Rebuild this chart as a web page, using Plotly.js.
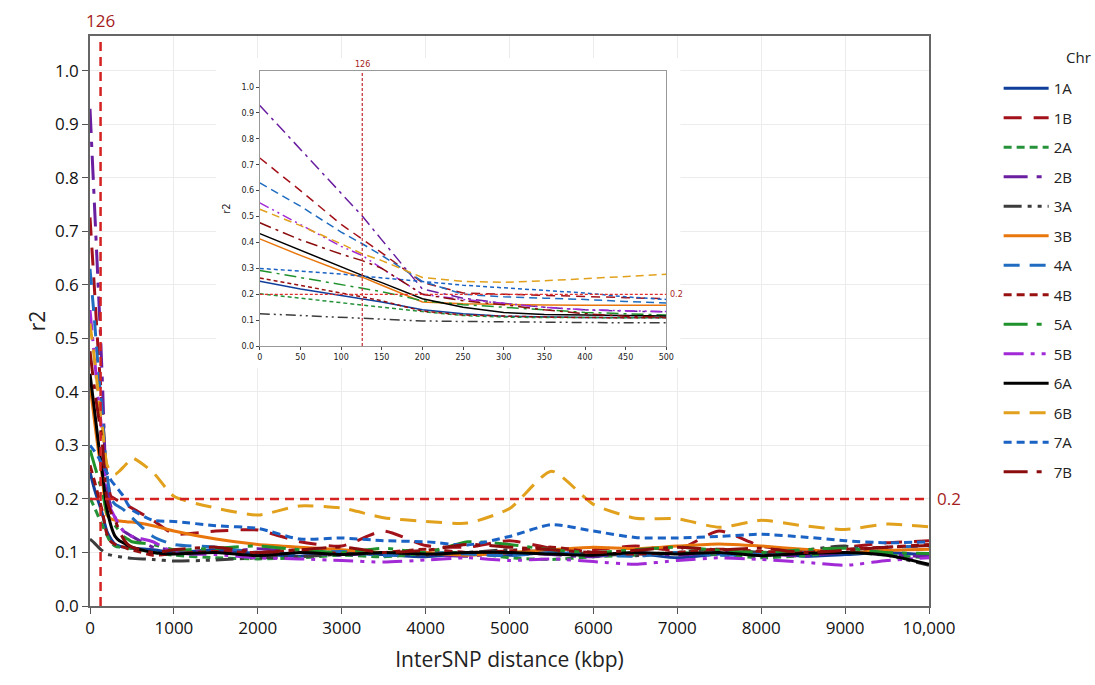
<!DOCTYPE html>
<html>
<head>
<meta charset="utf-8">
<script src="https://cdn.plot.ly/plotly-3.0.1.min.js"></script>
<style>html,body{margin:0;padding:0;background:#fff;}#chart{width:1095px;height:685px;}</style>
</head>
<body>
<div id="chart"></div>
<script>
// Inter-SNP distance (kbp)
const dist = [0, 50, 100, 126, 150, 200, 250, 300, 350, 400, 450, 500, 750, 1000, 1500, 2000, 2500, 3000, 3500, 4000, 4500, 5000, 5500, 6000, 6500, 7000, 7500, 8000, 8500, 9000, 9500, 10000];

// r2 per chromosome
const chr1A = [0.25, 0.22, 0.195, 0.183, 0.17, 0.14, 0.125, 0.115, 0.112, 0.11, 0.11, 0.108, 0.105, 0.10, 0.105, 0.098, 0.093, 0.10, 0.096, 0.092, 0.098, 0.095, 0.10, 0.094, 0.098, 0.09, 0.097, 0.10, 0.093, 0.096, 0.10, 0.095];
const chr1B = [0.726, 0.60, 0.47, 0.414, 0.36, 0.245, 0.205, 0.20, 0.195, 0.19, 0.187, 0.183, 0.16, 0.135, 0.14, 0.142, 0.12, 0.112, 0.14, 0.113, 0.11, 0.122, 0.108, 0.105, 0.112, 0.105, 0.14, 0.112, 0.105, 0.11, 0.118, 0.122];
const chr2A = [0.202, 0.185, 0.167, 0.157, 0.15, 0.133, 0.118, 0.112, 0.11, 0.11, 0.108, 0.108, 0.10, 0.095, 0.09, 0.088, 0.09, 0.095, 0.092, 0.098, 0.10, 0.09, 0.087, 0.092, 0.095, 0.10, 0.096, 0.09, 0.094, 0.10, 0.095, 0.09];
const chr2B = [0.929, 0.76, 0.59, 0.502, 0.41, 0.22, 0.185, 0.165, 0.15, 0.14, 0.135, 0.13, 0.11, 0.105, 0.10, 0.107, 0.10, 0.095, 0.10, 0.097, 0.093, 0.10, 0.096, 0.092, 0.10, 0.095, 0.10, 0.098, 0.093, 0.10, 0.096, 0.092];
const chr3A = [0.125, 0.118, 0.11, 0.106, 0.103, 0.097, 0.095, 0.093, 0.092, 0.091, 0.09, 0.089, 0.087, 0.084, 0.086, 0.09, 0.092, 0.097, 0.10, 0.095, 0.10, 0.105, 0.10, 0.098, 0.094, 0.10, 0.106, 0.10, 0.104, 0.112, 0.095, 0.076];
const chr3B = [0.414, 0.35, 0.29, 0.266, 0.235, 0.17, 0.163, 0.16, 0.159, 0.158, 0.157, 0.157, 0.15, 0.14, 0.125, 0.115, 0.11, 0.105, 0.10, 0.10, 0.095, 0.10, 0.105, 0.11, 0.107, 0.112, 0.116, 0.112, 0.106, 0.10, 0.104, 0.106];
const chr4A = [0.63, 0.54, 0.44, 0.395, 0.35, 0.25, 0.20, 0.19, 0.185, 0.18, 0.172, 0.165, 0.13, 0.115, 0.11, 0.10, 0.098, 0.102, 0.094, 0.10, 0.097, 0.094, 0.10, 0.096, 0.093, 0.10, 0.095, 0.097, 0.10, 0.105, 0.11, 0.112];
const chr4B = [0.263, 0.235, 0.205, 0.19, 0.175, 0.135, 0.12, 0.115, 0.112, 0.11, 0.107, 0.105, 0.095, 0.098, 0.102, 0.10, 0.105, 0.098, 0.10, 0.106, 0.10, 0.103, 0.11, 0.10, 0.097, 0.10, 0.106, 0.102, 0.10, 0.106, 0.11, 0.115];
const chr5A = [0.292, 0.265, 0.238, 0.224, 0.21, 0.175, 0.16, 0.15, 0.14, 0.13, 0.125, 0.12, 0.115, 0.105, 0.108, 0.112, 0.105, 0.10, 0.108, 0.10, 0.12, 0.115, 0.105, 0.10, 0.105, 0.11, 0.104, 0.10, 0.105, 0.108, 0.10, 0.098];
const chr5B = [0.553, 0.47, 0.385, 0.35, 0.30, 0.20, 0.18, 0.165, 0.15, 0.14, 0.135, 0.13, 0.12, 0.10, 0.096, 0.09, 0.088, 0.085, 0.082, 0.086, 0.09, 0.085, 0.088, 0.083, 0.078, 0.085, 0.09, 0.087, 0.082, 0.076, 0.085, 0.09];
const chr6A = [0.434, 0.37, 0.305, 0.273, 0.245, 0.183, 0.15, 0.13, 0.122, 0.118, 0.113, 0.11, 0.10, 0.097, 0.10, 0.094, 0.10, 0.096, 0.10, 0.097, 0.10, 0.10, 0.097, 0.095, 0.10, 0.097, 0.10, 0.094, 0.098, 0.10, 0.095, 0.078];
const chr6B = [0.528, 0.465, 0.395, 0.356, 0.33, 0.265, 0.25, 0.246, 0.252, 0.26, 0.268, 0.277, 0.25, 0.205, 0.183, 0.17, 0.187, 0.183, 0.165, 0.158, 0.155, 0.182, 0.252, 0.19, 0.164, 0.163, 0.147, 0.16, 0.15, 0.143, 0.153, 0.148];
const chr7A = [0.30, 0.29, 0.278, 0.27, 0.263, 0.25, 0.235, 0.225, 0.215, 0.205, 0.19, 0.18, 0.16, 0.158, 0.15, 0.145, 0.125, 0.127, 0.122, 0.12, 0.114, 0.13, 0.152, 0.14, 0.128, 0.127, 0.13, 0.134, 0.129, 0.122, 0.118, 0.12];
const chr7B = [0.476, 0.41, 0.355, 0.33, 0.30, 0.20, 0.175, 0.16, 0.14, 0.125, 0.115, 0.11, 0.10, 0.105, 0.11, 0.10, 0.105, 0.11, 0.10, 0.104, 0.115, 0.11, 0.105, 0.10, 0.104, 0.11, 0.105, 0.108, 0.10, 0.104, 0.11, 0.113];

const chrNames = ['1A', '1B', '2A', '2B', '3A', '3B', '4A', '4B', '5A', '5B', '6A', '6B', '7A', '7B'];
const chrValues = [chr1A, chr1B, chr2A, chr2B, chr3A, chr3B, chr4A, chr4B, chr5A, chr5B, chr6A, chr6B, chr7A, chr7B];

// tick labels
const xTickVals = [0, 1000, 2000, 3000, 4000, 5000, 6000, 7000, 8000, 9000, 10000];
const xTickText = ['0', '1000', '2000', '3000', '4000', '5000', '6000', '7000', '8000', '9000', '10,000'];
const insetTickVals = [0, 50, 100, 150, 200, 250, 300, 350, 400, 450, 500];

const threshDist = 126;
const threshR2 = 0.2;

// styles
const colors = ['#0f3f9a', '#a3121a', '#25923a', '#6a1ea0', '#3c3c3c', '#e8760c', '#1f6cc0', '#981010', '#1f922c', '#a12ad6', '#000000', '#e2a11c', '#1a62c4', '#8a0c0c'];
const dashMain = ['solid', '18px,12px', '8px,5px', '24px,9px,5px,9px', '18px,6px,4px,6px,4px,6px', 'solid', '16px,10px', '8px,5px', '24px,9px,5px,9px', '20px,7px,4px,7px,4px,7px', 'solid', '16px,10px', '8px,5px', '24px,9px,5px,9px'];
const dashInset = ['solid', '9px,6px', '4px,3px', '12px,5px,3px,5px', '10px,4px,2px,4px,2px,4px', 'solid', '8px,5px', '4px,3px', '12px,5px,3px,5px', '10px,4px,2px,4px,2px,4px', 'solid', '8px,5px', '4px,3px', '12px,5px,3px,5px'];

const traces = [];
chrNames.forEach((n, i) => {
  traces.push({
    x: dist, y: chrValues[i], type: 'scatter', mode: 'lines', name: n,
    legendgroup: n, xaxis: 'x', yaxis: 'y',
    line: {color: colors[i], width: 3, dash: dashMain[i], shape: 'spline', smoothing: 0.6},
    hoverinfo: 'x+y+name'
  });
});
// backdrop subplot (white panel behind the inset)
traces.push({x: [], y: [], type: 'scatter', mode: 'lines', xaxis: 'x2', yaxis: 'y2', showlegend: false, hoverinfo: 'skip'});
chrNames.forEach((n, i) => {
  traces.push({
    x: dist, y: chrValues[i], type: 'scatter', mode: 'lines', name: n,
    legendgroup: n, showlegend: false, xaxis: 'x3', yaxis: 'y3',
    line: {color: colors[i], width: 1.5, dash: dashInset[i]},
    hoverinfo: 'x+y+name'
  });
});

const gridC = '#ececec';
const layout = {
  width: 1095, height: 685,
  margin: {l: 90, r: 166, t: 36, b: 79},
  paper_bgcolor: '#ffffff', plot_bgcolor: '#ffffff',
  font: {family: 'Open Sans, sans-serif', color: '#222'},
  showlegend: true,
  legend: {
    x: 1.083, xanchor: 'left', y: 0.937, yanchor: 'top',
    font: {size: 15, color: '#222'},
    itemwidth: 45,
    tracegroupgap: 7, bgcolor: 'rgba(0,0,0,0)'
  },
  xaxis: {
    domain: [0, 1], range: [0, 10000], tickvals: xTickVals, ticktext: xTickText,
    ticks: 'outside', ticklen: 6, tickcolor: '#555', tickwidth: 1.3,
    showline: true, linecolor: '#666', linewidth: 1.5, mirror: true,
    showgrid: true, gridcolor: gridC, zeroline: false,
    tickfont: {size: 17, color: '#111'},
    title: {text: 'InterSNP distance (kbp)', font: {size: 21, color: '#222'}, standoff: 14}
  },
  yaxis: {
    domain: [0, 1], range: [0, 1.065], tick0: 0, dtick: 0.1, tickformat: '.1f',
    ticks: 'outside', ticklen: 6, tickcolor: '#555', tickwidth: 1.3,
    showline: true, linecolor: '#666', linewidth: 1.5, mirror: true,
    showgrid: true, gridcolor: gridC, zeroline: false,
    tickfont: {size: 17, color: '#111'},
    title: {text: 'r2', font: {size: 21, color: '#222'}, standoff: 4}
  },
  xaxis2: {domain: [0.15, 0.7036], range: [0, 1], anchor: 'y2', showgrid: false, zeroline: false, showline: false, showticklabels: false, ticks: ''},
  yaxis2: {domain: [0.4175, 0.961], range: [0, 1], anchor: 'x2', showgrid: false, zeroline: false, showline: false, showticklabels: false, ticks: ''},
  xaxis3: {
    domain: [0.2024, 0.6869], anchor: 'y3', range: [0, 500], tickvals: insetTickVals,
    ticks: 'outside', ticklen: 3, tickcolor: '#444', showline: true, linecolor: '#999', linewidth: 1, mirror: true,
    showgrid: false, zeroline: false,
    tickfont: {size: 8, family: 'DejaVu Sans, sans-serif', color: '#222'}
  },
  yaxis3: {
    domain: [0.456, 0.9386], anchor: 'x3', range: [0, 1.062], tick0: 0, dtick: 0.1, tickformat: '.1f',
    ticks: 'outside', ticklen: 3, tickcolor: '#444', showline: true, linecolor: '#999', linewidth: 1, mirror: true,
    showgrid: false, zeroline: false,
    tickfont: {size: 8, family: 'DejaVu Sans, sans-serif', color: '#222'},
    title: {text: 'r2', font: {size: 10, family: 'DejaVu Sans, sans-serif', color: '#222'}, standoff: 8}
  },
  shapes: [
    {type: 'rect', xref: 'x2', yref: 'y2', x0: 0, x1: 1, y0: 0, y1: 1, fillcolor: '#ffffff', line: {width: 0}, layer: 'below'},
    {type: 'line', xref: 'x', yref: 'paper', x0: threshDist, x1: threshDist, y0: 0, y1: 1, line: {color: '#d42222', width: 2.5, dash: '9px,6px'}, layer: 'above'},
    {type: 'line', xref: 'x', yref: 'y', x0: 0, x1: 10000, y0: threshR2, y1: threshR2, line: {color: '#d42222', width: 2.5, dash: '9px,6px'}, layer: 'above'},
    {type: 'line', xref: 'x3', yref: 'y3 domain', x0: threshDist, x1: threshDist, y0: 0, y1: 1, line: {color: '#c0282e', width: 1.2, dash: '3px,2px'}, layer: 'above'},
    {type: 'line', xref: 'x3', yref: 'y3', x0: 0, x1: 500, y0: threshR2, y1: threshR2, line: {color: '#e0302e', width: 1.2, dash: '3px,2px'}, layer: 'above'}
  ],
  annotations: [
    {xref: 'paper', yref: 'paper', x: 1.1776, y: 0.963, xanchor: 'center', yanchor: 'middle', text: 'Chr', showarrow: false, font: {size: 15, color: '#222'}},
    {xref: 'x', yref: 'paper', x: threshDist, y: 1, yanchor: 'bottom', yshift: 2, text: String(threshDist), showarrow: false, font: {size: 17, color: '#a51c1c'}},
    {xref: 'paper', yref: 'y', x: 1, y: threshR2, xanchor: 'left', xshift: 6, text: String(threshR2), showarrow: false, font: {size: 17, color: '#a51c1c'}},
    {xref: 'x3', yref: 'y3 domain', x: threshDist, y: 1, yanchor: 'bottom', yshift: 0, text: String(threshDist), showarrow: false, font: {size: 8, family: 'DejaVu Sans, sans-serif', color: '#a51c1c'}},
    {xref: 'x3 domain', yref: 'y3', x: 1, y: threshR2, xanchor: 'left', xshift: 2, text: String(threshR2), showarrow: false, font: {size: 8, family: 'DejaVu Sans, sans-serif', color: '#a51c1c'}}
  ]
};

Plotly.newPlot('chart', traces, layout, {displayModeBar: false, responsive: false});
</script>
</body>
</html>
